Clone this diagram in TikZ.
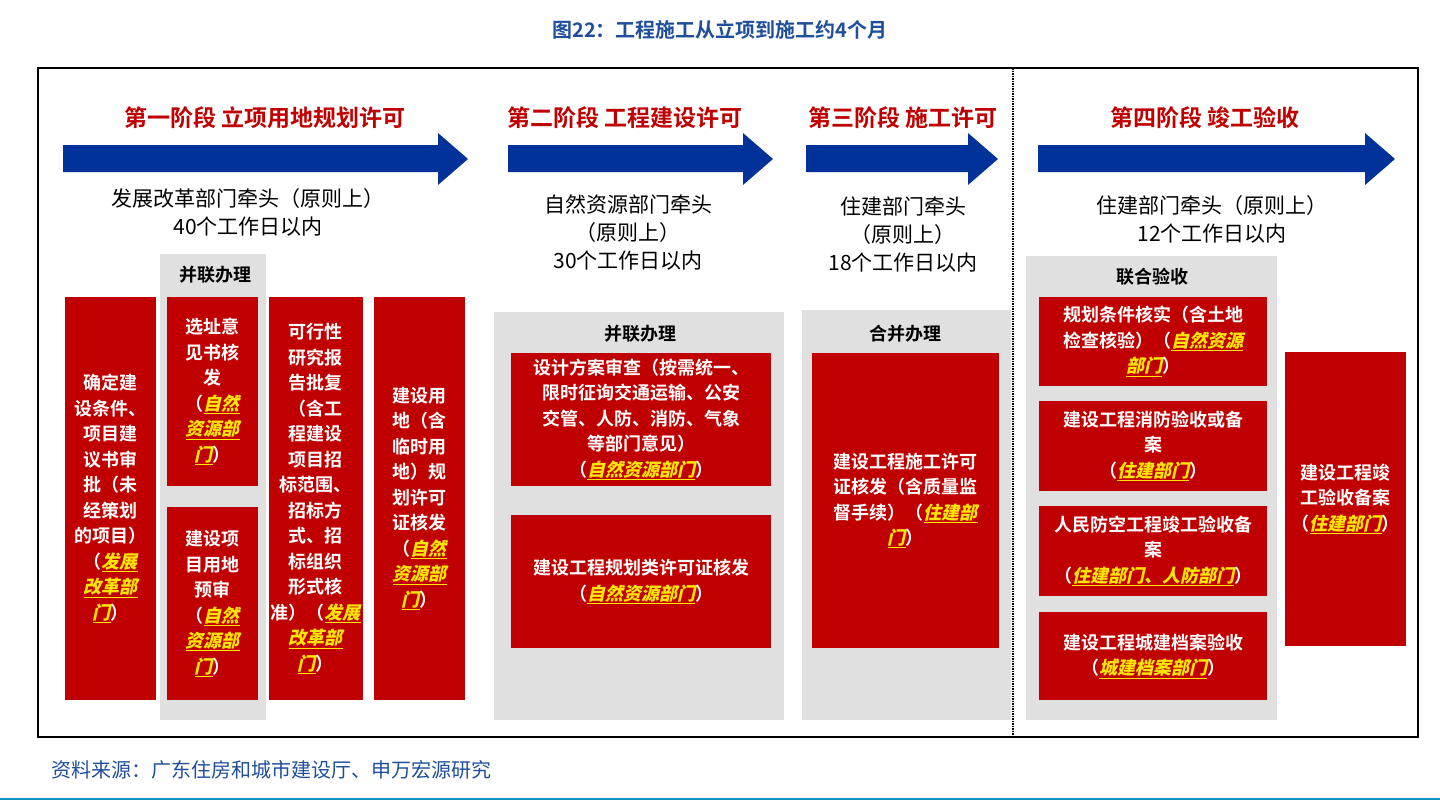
\documentclass[tikz,border=0pt]{standalone}
\usepackage{fontspec}
\setmainfont{Noto Sans CJK SC}[BoldFont={Noto Sans CJK SC Bold}]
\newfontfamily\deptfont{Noto Sans CJK SC Bold}[FakeSlant=0.22]
\usetikzlibrary{positioning}
\definecolor{boxred}{HTML}{C00000}
\definecolor{headred}{HTML}{C00000}
\definecolor{arrowblue}{HTML}{00329A}
\definecolor{panelgray}{HTML}{E0E0E0}
\definecolor{deptyellow}{HTML}{FFE600}
\definecolor{srcblue}{HTML}{1F4E9A}
\newcommand\dpt[1]{{\deptfont\color{deptyellow}\underline{#1}}}
\newcommand\stagearrow[2]{\fill[arrowblue] (#1,145) -- (#2-30,145) -- (#2-30,133) -- (#2,159) -- (#2-30,185) -- (#2-30,172) -- (#1,172) -- cycle;}
\tikzset{
  redbox/.style={fill=boxred, text=white, align=center, inner sep=2pt,
    font=\bfseries\fontsize{18}{25.5}\selectfont},
  panel/.style={fill=panelgray, draw=none},
  panellabel/.style={font=\bfseries\fontsize{18}{22}\selectfont},
  stagehead/.style={text=headred, font=\bfseries\fontsize{23}{28}\selectfont},
  lead/.style={align=center, font=\fontsize{21}{28}\selectfont}
}
\begin{document}
\begin{tikzpicture}[x=1pt, y=-1pt]
  \useasboundingbox (0,0) rectangle (1440,803);

  % title and frame
  \node[text=srcblue, font=\bfseries\fontsize{20}{24}\selectfont] (title) at (720,30) {图22：工程施工从立项到施工约4个月};
  \draw[line width=2.5pt] (38,68) rectangle (1418,737);
  \draw[densely dotted, line width=1.5pt] (1013,68) -- (1013,737);

  % stage heads and arrows
  \node[stagehead] (h1) at (265,118) {第一阶段 立项用地规划许可};
  \node[stagehead] (h2) at (625,118) {第二阶段 工程建设许可};
  \node[stagehead] (h3) at (903,118) {第三阶段 施工许可};
  \node[stagehead] (h4) at (1205,118) {第四阶段 竣工验收};
  \stagearrow{63}{468}
  \stagearrow{508}{773}
  \stagearrow{806}{998}
  \stagearrow{1038}{1395}

  \node[lead] (l1) at (248,212) {发展改革部门牵头（原则上）\\40个工作日以内};
  \node[lead] (l2) at (628,232) {自然资源部门牵头\\（原则上）\\30个工作日以内};
  \node[lead] (l3) at (903,235) {住建部门牵头\\（原则上）\\18个工作日以内};
  \node[lead] (l4) at (1212,219) {住建部门牵头（原则上）\\12个工作日以内};

  % gray panels
  \fill[panel] (160,254) rectangle (266,720);
  \fill[panel] (494,312) rectangle (784,720);
  \fill[panel] (802,310) rectangle (1011,720);
  \fill[panel] (1026,256) rectangle (1277,720);
  \node[panellabel] (p1) at (215,275) {并联办理};
  \node[panellabel] (p2) at (640,334) {并联办理};
  \node[panellabel] (p3) at (905,334) {合并办理};
  \node[panellabel] (p4) at (1152,277) {联合验收};

  % stage 1
  \node[redbox, minimum width=91pt, minimum height=403pt] (a) at (110.5,498.5)
    {确定建\\设条件、\\项目建\\议书审\\批（未\\经策划\\的项目）\\（\dpt{发展}\\\dpt{改革部}\\\dpt{门}）};
  \node[redbox, minimum width=91pt, minimum height=189pt] (b) at (212.5,391.5)
    {选址意\\见书核\\发\\（\dpt{自然}\\\dpt{资源部}\\\dpt{门}）};
  \node[redbox, minimum width=91pt, minimum height=193pt] (c) at (212.5,603.5)
    {建设项\\目用地\\预审\\（\dpt{自然}\\\dpt{资源部}\\\dpt{门}）};
  \node[redbox, minimum width=91pt, minimum height=403pt] (d) at (315.5,498.5)
    {可行性\\研究报\\告批复\\（含工\\程建设\\项目招\\标范围、\\招标方\\式、招\\标组织\\形式核\\准）（\dpt{发展}\\\dpt{改革部}\\\dpt{门}）};
  \node[redbox, minimum width=91pt, minimum height=403pt] (e) at (419.5,498.5)
    {建设用\\地（含\\临时用\\地）规\\划许可\\证核发\\（\dpt{自然}\\\dpt{资源部}\\\dpt{门}）};

  % stage 2
  \node[redbox, minimum width=260pt, minimum height=133pt] (f) at (641,419.5)
    {设计方案审查（按需统一、\\限时征询交通运输、公安\\交管、人防、消防、气象\\等部门意见）\\（\dpt{自然资源部门}）};
  \node[redbox, minimum width=260pt, minimum height=133pt] (g) at (641,581.5)
    {建设工程规划类许可证核发\\（\dpt{自然资源部门}）};

  % stage 3
  \node[redbox, minimum width=187pt, minimum height=295pt] (k) at (905.5,500.5)
    {建设工程施工许可\\证核发（含质量监\\督手续）（\dpt{住建部}\\\dpt{门}）};

  % stage 4
  \node[redbox, minimum width=228pt, minimum height=89pt] (m) at (1153,341.5)
    {规划条件核实（含土地\\检查核验）（\dpt{自然资源}\\\dpt{部门}）};
  \node[redbox, minimum width=228pt, minimum height=90pt] (n) at (1153,446)
    {建设工程消防验收或备\\案\\（\dpt{住建部门}）};
  \node[redbox, minimum width=228pt, minimum height=90pt] (o) at (1153,551)
    {人民防空工程竣工验收备\\案\\（\dpt{住建部门、人防部门}）};
  \node[redbox, minimum width=228pt, minimum height=88pt] (q) at (1153,656)
    {建设工程城建档案验收\\（\dpt{城建档案部门}）};
  \node[redbox, minimum width=121pt, minimum height=294pt] (r) at (1345.5,499)
    {建设工程竣\\工验收备案\\（\dpt{住建部门}）};

  % source
  \node[anchor=west, text=srcblue, font=\fontsize{20}{24}\selectfont] (src) at (48,770) {资料来源：广东住房和城市建设厅、申万宏源研究};
  \draw[srcblue!60!cyan, line width=1.5pt] (0,799) -- (1440,799);
\end{tikzpicture}
\end{document}
